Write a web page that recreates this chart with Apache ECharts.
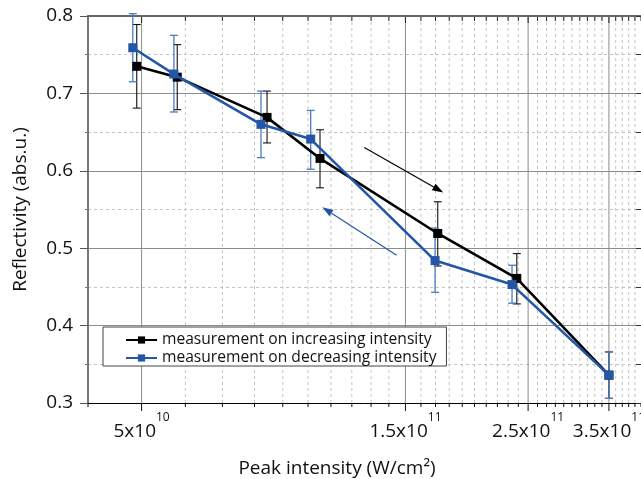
<!DOCTYPE html>
<html>
<head>
<meta charset="utf-8">
<script src="https://cdn.jsdelivr.net/npm/echarts@6/dist/echarts.min.js"></script>
<style>
  html, body { margin: 0; padding: 0; background: #fff; }
  #chart { width: 641px; height: 479px; }
</style>
</head>
<body>
<div id="chart"></div>
<script>
const FONT = '"Open Sans", "DejaVu Sans", sans-serif';

// Peak intensity (W/cm²) and reflectivity while ramping the intensity up
const incIntensity = [4.90e10, 5.80e10, 8.43e10, 1.051e11, 1.716e11, 2.385e11, 3.50e11];
const incReflect   = [0.735, 0.721, 0.669, 0.616, 0.519, 0.461, 0.336];
const incLow       = [0.681, 0.679, 0.636, 0.578, 0.477, 0.428, 0.306];
const incHigh      = [0.789, 0.763, 0.703, 0.653, 0.560, 0.493, 0.366];

// ... and while ramping it back down
const decIntensity = [4.82e10, 5.72e10, 8.22e10, 1.011e11, 1.697e11, 2.338e11, 3.50e11];
const decReflect   = [0.759, 0.725, 0.660, 0.641, 0.484, 0.453, 0.336];
const decLow       = [0.715, 0.676, 0.617, 0.602, 0.443, 0.429, 0.306];
const decHigh      = [0.803, 0.775, 0.703, 0.678, 0.526, 0.478, 0.366];

const seriesNames = ['measurement on increasing intensity', 'measurement on decreasing intensity'];

// log-axis grid: a line every 1e10, labelled majors
const gridValues = [
  4e10, 5e10, 6e10, 7e10, 8e10, 9e10,
  1.0e11, 1.1e11, 1.2e11, 1.3e11, 1.4e11, 1.5e11, 1.6e11, 1.7e11, 1.8e11, 1.9e11,
  2.0e11, 2.1e11, 2.2e11, 2.3e11, 2.4e11, 2.5e11, 2.6e11, 2.7e11, 2.8e11, 2.9e11,
  3.0e11, 3.1e11, 3.2e11, 3.3e11, 3.4e11, 3.5e11, 3.6e11, 3.7e11, 3.8e11, 3.9e11, 4.0e11
];
const majorValues   = [5e10, 1.5e11, 2.5e11, 3.5e11];
const majorMantissa = ['5', '1.5', '2.5', '3.5'];
const majorExponent = ['10', '11', '11', '11'];

const xMin = 4e10, xMax = 4e11;
const yMin = 0.3, yMax = 0.8, yStep = 0.1;

// direction arrows: [x start, y start, x end, y end]
const upArrow   = [1.264e11, 0.630, 1.756e11, 0.572];
const downArrow = [1.446e11, 0.491, 1.061e11, 0.553];

const BLACK = '#000000';
const BLUE = '#2456a6';
const BLUE_ERR = '#4a7bc4';

const zip = (xs, ys) => xs.map((x, i) => [x, ys[i]]);
const errData = (xs, lo, hi) => xs.map((x, i) => [x, lo[i], hi[i]]);

function errorBars(color, width) {
  return function (params, api) {
    const x = api.value(0);
    const top = api.coord([x, api.value(2)]);
    const bot = api.coord([x, api.value(1)]);
    const half = 4;
    const style = { stroke: color, lineWidth: width };
    return {
      type: 'group',
      children: [
        { type: 'line', shape: { x1: top[0], y1: top[1], x2: bot[0], y2: bot[1] }, style },
        { type: 'line', shape: { x1: top[0] - half, y1: top[1], x2: top[0] + half, y2: top[1] }, style },
        { type: 'line', shape: { x1: bot[0] - half, y1: bot[1], x2: bot[0] + half, y2: bot[1] }, style }
      ]
    };
  };
}

function arrow(color) {
  return function (params, api) {
    const a = api.coord([api.value(0), api.value(1)]);
    const b = api.coord([api.value(2), api.value(3)]);
    const dx = b[0] - a[0], dy = b[1] - a[1];
    const len = Math.sqrt(dx * dx + dy * dy);
    const ux = dx / len, uy = dy / len;
    const headL = 11, headW = 3.8;
    const bx = b[0] - ux * headL, by = b[1] - uy * headL;
    return {
      type: 'group',
      children: [
        { type: 'line', shape: { x1: a[0], y1: a[1], x2: bx, y2: by }, style: { stroke: color, lineWidth: 1.2 } },
        {
          type: 'polygon',
          shape: { points: [[b[0], b[1]], [bx - uy * headW, by + ux * headW], [bx + uy * headW, by - ux * headW]] },
          style: { fill: color }
        }
      ]
    };
  };
}

function renderGrid(params, api) {
  const v = api.value(0);
  const lo = api.coord([v, yMin]);
  const hi = api.coord([v, yMax]);
  const major = majorValues.indexOf(v) >= 0;
  const edge = v === gridValues[0] || v === gridValues[gridValues.length - 1];
  const children = [];
  if (!edge) {
    children.push({
      type: 'line',
      shape: { x1: lo[0], y1: lo[1], x2: hi[0], y2: hi[1] },
      style: { stroke: major ? '#8c8c8c' : '#c4c4c4', lineWidth: 1, lineDash: major ? null : [3, 3] }
    });
  }
  children.push({
    type: 'line',
    shape: { x1: lo[0], y1: lo[1], x2: lo[0], y2: lo[1] + (major ? 8 : 4) },
    style: { stroke: '#111', lineWidth: 1 }
  });
  children.push({
    type: 'line',
    shape: { x1: hi[0], y1: hi[1], x2: hi[0], y2: hi[1] + (major ? 7 : 5) },
    style: { stroke: '#222', lineWidth: 1 }
  });
  return { type: 'group', children };
}

function renderXLabels(params, api) {
  const v = api.value(0);
  const i = api.value(2);
  const p = api.coord([v, yMin]);
  return {
    type: 'text',
    x: p[0],
    y: p[1] + 29,
    style: {
      text: '{m|' + majorMantissa[i] + 'x10}{e|' + majorExponent[i] + '}',
      align: 'center',
      verticalAlign: 'middle',
      rich: {
        m: { fontFamily: FONT, fontSize: 19, lineHeight: 20, fill: '#111' },
        e: { fontFamily: FONT, fontSize: 12, lineHeight: 12, padding: [0, 0, 28, 0], fill: '#111' }
      }
    }
  };
}

const chart = echarts.init(document.getElementById('chart'), null, { renderer: 'canvas' });

chart.setOption({
  animation: false,
  backgroundColor: '#fff',
  grid: { left: 88, right: 0, top: 16, bottom: 76, containLabel: false, outerBoundsMode: 'none' },
  legend: {
    orient: 'vertical',
    left: 103,
    top: 327,
    data: seriesNames,
    selectedMode: false,
    backgroundColor: '#fff',
    borderColor: '#444',
    borderWidth: 1,
    borderRadius: 0,
    padding: [5, 10, 0, 22],
    itemGap: 2,
    itemWidth: 31,
    itemHeight: 9,
    textStyle: { fontFamily: FONT, fontSize: 15.6, color: '#111' }
  },
  xAxis: [
    {
      type: 'log',
      logBase: 10,
      min: xMin,
      max: xMax,
      position: 'bottom',
      name: 'Peak intensity (W/cm²)',
      nameLocation: 'middle',
      nameGap: 56,
      nameTextStyle: { fontFamily: FONT, fontSize: 19, color: '#111', padding: [0, 55, 0, 0] },
      axisLine: { show: true, lineStyle: { color: '#000', width: 1 } },
      axisTick: { show: false },
      axisLabel: { show: false },
      splitLine: { show: false },
      minorTick: { show: false },
      minorSplitLine: { show: false }
    },
    {
      type: 'log',
      logBase: 10,
      min: xMin,
      max: xMax,
      position: 'top',
      axisLine: { show: true, lineStyle: { color: '#666', width: 2 } },
      axisTick: { show: false },
      axisLabel: { show: false },
      splitLine: { show: false }
    }
  ],
  yAxis: [
    {
      type: 'value',
      min: yMin,
      max: yMax,
      interval: yStep,
      position: 'left',
      name: 'Reflectivity (abs.u.)',
      nameLocation: 'middle',
      nameGap: 58,
      nameTextStyle: { fontFamily: FONT, fontSize: 19, color: '#111' },
      axisLine: { show: true, lineStyle: { color: '#777', width: 2 } },
      axisTick: { show: true, length: 8, lineStyle: { color: '#555' } },
      minorTick: { show: true, splitNumber: 2, length: 3, lineStyle: { color: '#777' } },
      axisLabel: {
        fontFamily: FONT, fontSize: 19, color: '#111', margin: 15,
        formatter: v => v.toFixed(1)
      },
      splitLine: { show: true, lineStyle: { color: '#8c8c8c', width: 1 } },
      minorSplitLine: { show: true, lineStyle: { color: '#c4c4c4', width: 1, type: [3, 3] } }
    },
    {
      type: 'value',
      min: yMin,
      max: yMax,
      interval: yStep,
      position: 'right',
      axisLine: { show: true, lineStyle: { color: '#555', width: 1 } },
      axisTick: { show: true, inside: true, length: 5, lineStyle: { color: '#333' } },
      minorTick: { show: true, splitNumber: 2, length: 5, lineStyle: { color: '#333' } },
      axisLabel: { show: false },
      splitLine: { show: false }
    }
  ],
  series: [
    {
      type: 'custom',
      name: 'grid',
      silent: true,
      z: 0,
      clip: false,
      renderItem: renderGrid,
      encode: { x: 0, y: 1 },
      data: gridValues.map(v => [v, yMin])
    },
    {
      type: 'custom',
      name: 'xlabels',
      silent: true,
      z: 0,
      clip: false,
      renderItem: renderXLabels,
      encode: { x: 0, y: 1 },
      data: majorValues.map((v, i) => [v, yMin, i])
    },
    {
      type: 'custom',
      name: 'arrowUp',
      silent: true,
      z: 3,
      renderItem: arrow(BLACK),
      encode: { x: [0, 2], y: [1, 3] },
      data: [upArrow]
    },
    {
      type: 'custom',
      name: 'arrowDown',
      silent: true,
      z: 3,
      renderItem: arrow(BLUE),
      encode: { x: [0, 2], y: [1, 3] },
      data: [downArrow]
    },
    {
      type: 'custom',
      name: 'incErr',
      silent: true,
      z: 3,
      clip: false,
      renderItem: errorBars('#111', 1.1),
      encode: { x: 0, y: [1, 2] },
      data: errData(incIntensity, incLow, incHigh)
    },
    {
      type: 'custom',
      name: 'decErr',
      silent: true,
      z: 3,
      clip: false,
      renderItem: errorBars(BLUE_ERR, 1.3),
      encode: { x: 0, y: [1, 2] },
      data: errData(decIntensity, decLow, decHigh)
    },
    {
      type: 'line',
      name: seriesNames[0],
      z: 4,
      data: zip(incIntensity, incReflect),
      symbol: 'rect',
      symbolSize: 9,
      showSymbol: true,
      lineStyle: { color: BLACK, width: 2.6 },
      itemStyle: { color: BLACK }
    },
    {
      type: 'line',
      name: seriesNames[1],
      z: 5,
      data: zip(decIntensity, decReflect),
      symbol: 'rect',
      symbolSize: 9,
      showSymbol: true,
      lineStyle: { color: BLUE, width: 2.6 },
      itemStyle: { color: BLUE }
    }
  ]
});
</script>
</body>
</html>
